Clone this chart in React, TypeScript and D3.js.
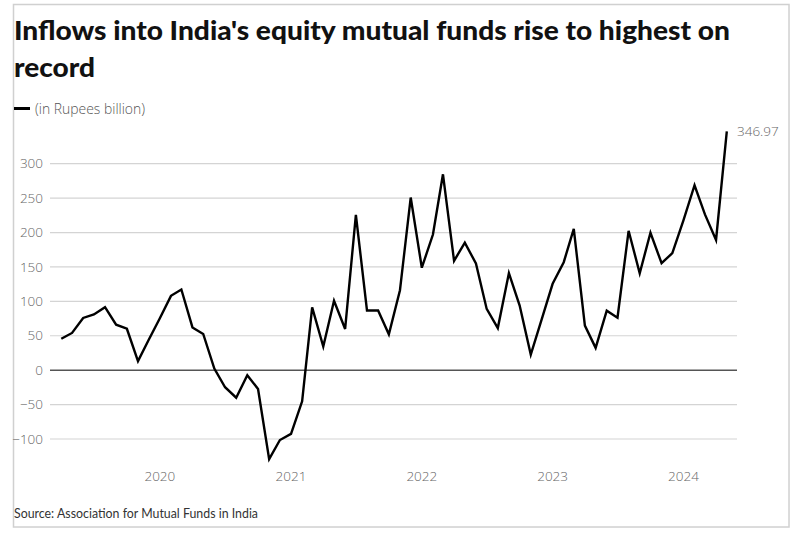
import React from "react";
import * as d3 from "d3";

const title1 = "Inflows into India's equity mutual funds rise to highest on";
const title2 = "record";
const legendLabel = "(in Rupees billion)";
const source = "Source: Association for Mutual Funds in India";

// Monthly net inflows, Apr 2019 .. May 2024 (Rupees billion)
const startYear = 2019;
const startMonth = 3; // April (0-based)
const values: number[] = [
  45.7, 54.1, 75.9, 80.9, 91.5, 66.1, 60.2, 13.1, 44.3,
  75.5, 108.0, 117.2, 62.1, 52.6, 2.4, -24.8, -40.0, -7.3, -27.3, -129.2, -101.5,
  -92.5, -45.3, 91.2, 34.4, 100.8, 59.9, 225.8, 86.7, 86.8, 52.2, 116.2, 250.8,
  148.9, 197.1, 284.6, 158.9, 185.3, 155.0, 89.0, 61.2, 141.0, 93.9, 22.6, 73.0,
  125.5, 156.9, 205.3, 64.8, 32.4, 86.4, 76.3, 202.5, 140.9, 199.6, 155.4, 170.0,
  217.8, 268.7, 226.3, 189.2, 346.97,
];
const yTicks = [-100, -50, 0, 50, 100, 150, 200, 250, 300];
const xTickYears = [2020, 2021, 2022, 2023, 2024];

const dates = values.map((_, i) => new Date(startYear, startMonth + i, 1));

export default function App() {
  const x = d3
    .scaleTime()
    .domain([dates[0], dates[dates.length - 1]])
    .range([61.3, 726.8]);
  const y = d3.scaleLinear().domain([-100, 300]).range([439, 163.7]);
  const line = d3
    .line<number>()
    .x((_, i) => x(dates[i]))
    .y((d) => y(d));
  const gridX0 = 50;
  const gridX1 = 737;
  const font = "Lato, 'Noto Sans', sans-serif";
  const tickFont = "'Open Sans', 'Noto Sans', sans-serif";
  const last = values[values.length - 1];
  const fmt = (t: number) => (t < 0 ? "\u2212" + Math.abs(t) : String(t));

  return (
    <svg
      width={800}
      height={535}
      style={{ position: "absolute", left: 0, top: 0, background: "#fff" }}
      fontFamily={font}
    >
      <rect x={13.5} y={4.5} width={775.5} height={522.5} fill="#fff" stroke="#d0d0d0" strokeWidth={1.5} />
      <text x={14} y={40} fontSize={26} fontWeight={900} fill="#111" textLength={716} lengthAdjust="spacingAndGlyphs">
        {title1}
      </text>
      <text x={14} y={77} fontSize={26} fontWeight={900} fill="#111" textLength={81} lengthAdjust="spacingAndGlyphs">
        {title2}
      </text>
      <line x1={14} x2={30} y1={108.5} y2={108.5} stroke="#000" strokeWidth={3} />
      <text x={35} y={113.5} fontSize={14} fontWeight={300} fill="#555" fontFamily={tickFont} textLength={110} lengthAdjust="spacingAndGlyphs">
        {legendLabel}
      </text>

      {yTicks.map((t) => (
        <g key={t}>
          <line
            x1={gridX0}
            x2={gridX1}
            y1={y(t)}
            y2={y(t)}
            stroke={t === 0 ? "#555" : "#d4d4d4"}
            strokeWidth={t === 0 ? 1.5 : 1.2}
          />
          <text x={43} y={y(t)} dy="0.35em" textAnchor="end" fontSize={13.5} fontWeight={300} fill="#666" fontFamily={tickFont}>
            {fmt(t)}
          </text>
        </g>
      ))}

      {xTickYears.map((yr) => (
        <text key={yr} x={x(new Date(yr, 0, 1))} y={481} textAnchor="middle" fontSize={13.5} fontWeight={300} fill="#666" fontFamily={tickFont}>
          {yr}
        </text>
      ))}

      <path d={line(values) || ""} fill="none" stroke="#000" strokeWidth={2.4} strokeLinejoin="miter" />

      <text x={737} y={y(last)} dy="0.35em" fontSize={13.5} fontWeight={300} fill="#666" fontFamily={tickFont}>
        {last.toFixed(2)}
      </text>

      <text x={14} y={518} fontSize={13} fill="#333" textLength={244} lengthAdjust="spacingAndGlyphs">
        {source}
      </text>
    </svg>
  );
}
